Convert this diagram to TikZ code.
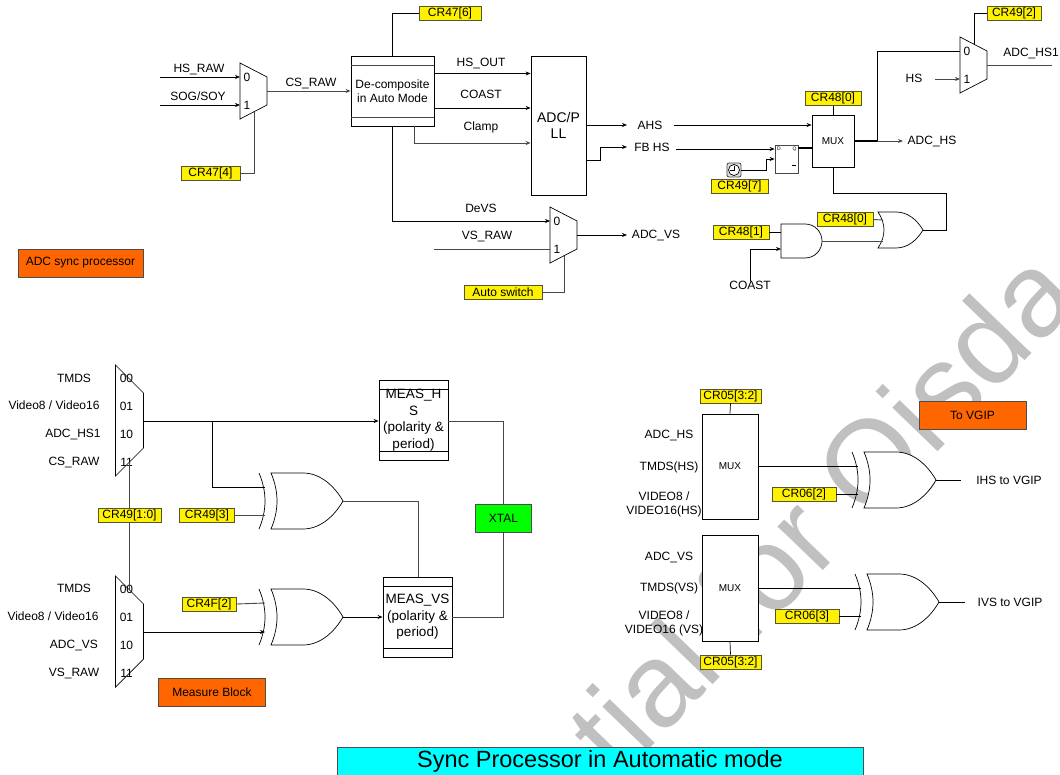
\documentclass[tikz,border=0pt]{standalone}
\usepackage{fontspec}
\setmainfont{Liberation Sans}
\usetikzlibrary{arrows.meta}
\definecolor{regedge}{HTML}{555533}
\definecolor{grayw}{HTML}{484848}
\definecolor{markgray}{HTML}{C0C0C0}
\definecolor{blockor}{HTML}{FF6600}
\definecolor{titlecy}{HTML}{00FFFF}

\begin{document}
\begin{tikzpicture}
     [
     x=1pt,
     y=-1pt,
     every node/.style={font=\fontsize{12}{14}\selectfont, inner sep=0pt, align=center},
     wire/.style={draw=black, line width=0.7pt},
     gwire/.style={draw=grayw, line width=0.9pt},
     sig/.style={wire, -{Stealth[length=5pt,width=4pt]}},
     gsig/.style={gwire, -{Stealth[length=5pt,width=4pt]}},
     reg/.style={draw=regedge, line width=0.8pt, fill=yellow, minimum height=14pt},
     block/.style={draw=black!70, line width=0.8pt, fill=blockor, minimum width=107pt, minimum height=28pt},
     box/.style={draw=black, line width=0.8pt, fill=white},
     muxb/.pic={
          \draw[wire, fill=white] (0,0) -- (27,14) -- (27,42) -- (0,56) -- cycle;
          \node (-l0) at (7,14) {0};
          \node (-l1) at (7,42) {1};
          \coordinate (-i0) at (0,14);
          \coordinate (-i1) at (0,42);
          \coordinate (-o) at (27,28);
          \coordinate (-t) at (14,7);
          \coordinate (-c) at (14,49);
     },
     muxq/.pic={
          \draw[wire, fill=white] (0,0) -- (28,28) -- (28,83) -- (0,111) -- cycle;
          \node (-l0) at (11,13) {00};
          \node (-l1) at (11,41) {01};
          \node (-l2) at (11,69) {10};
          \node (-l3) at (11,97) {11};
          \coordinate (-o) at (28,56);
          \coordinate (-t) at (14,14);
          \coordinate (-c) at (14,97);
     },
     xorg/.pic={
          \draw[wire, fill=white] (0,0) -- (32,0) .. controls (50,0) and (64,14) .. (72,28)
               .. controls (64,42) and (50,56) .. (32,56) -- (0,56)
               .. controls (8,37) and (8,19) .. (0,0) -- cycle;
          \draw[wire] (-12,0) .. controls (-4,19) and (-4,37) .. (-12,56);
          \coordinate (-i0) at (-6,14);
          \coordinate (-i1) at (-6,42);
          \coordinate (-o) at (72,28);
     },
     org/.pic={
          \draw[wire, fill=white] (0,0) -- (18,0) .. controls (30,0) and (39,8) .. (45,18)
               .. controls (39,28) and (30,36) .. (18,36) -- (0,36)
               .. controls (8,24) and (8,12) .. (0,0) -- cycle;
          \coordinate (-i0) at (5,8);
          \coordinate (-i1) at (5,29);
          \coordinate (-o) at (45,18);
     },
     andg/.pic={
          \draw[wire, fill=white] (0,0) -- (24,0) .. controls (34,0) and (41,8) .. (41,17)
               .. controls (41,26) and (34,34) .. (24,34) -- (0,34) -- cycle;
          \coordinate (-i0) at (0,8);
          \coordinate (-i1) at (0,25);
          \coordinate (-o) at (41,17);
     }
     ]
     \useasboundingbox (0,0) rectangle (1060,775);
     \begin{scope}
          \clip (0,0) rectangle (1060,775);
          \node[anchor=base east, rotate=46, font=\fontsize{119}{125}\selectfont, text=markgray] (mark) at (1084,300) {Confidential for Qisda};
     \end{scope}

     % ADC sync part
     \pic (ma) at (240,63) {muxb};
     \pic (mb) at (550,207) {muxb};
     \pic (mc) at (960,37) {muxb};
     \node[box, minimum width=83pt, minimum height=70pt] (dcmp) at (392.5,91) {De-composite\\in Auto Mode};
     \draw[gwire] (351,65) -- (434,65) (351,117) -- (434,117);
     \node[box, minimum width=55pt, minimum height=139pt, font=\fontsize{14}{16.5}\selectfont] (adc) at (558.5,125.5) {ADC/P\\LL};
     \node[box, minimum width=42pt, minimum height=52pt, font=\fontsize{10}{12}\selectfont] (muxa) at (833,141) {MUX};
     \node[draw=grayw, fill=white, line width=0.8pt, minimum width=23pt, minimum height=28pt] (ff) at (786.5,159) {};
     \node[font=\fontsize{5}{6}\selectfont] (ffd) at (779,149) {D};
     \node[font=\fontsize{5}{6}\selectfont] (ffq) at (794.5,149) {Q};
     \draw[wire] (792,165) -- (796,165);
     \node[draw=grayw, fill=black!12, line width=0.8pt, rounded corners=2pt, minimum size=14pt] (clk) at (734,170) {};
     \draw[wire, fill=white] (clk.center) circle (5.5);
     \draw[wire] (734,166) -- (clk.center) -- (730,170);
     \pic (og) at (878,212) {org};
     \pic (ag) at (781,224) {andg};

     \node[reg, minimum width=62pt] (cr476) at (450,13.5) {CR47[6]};
     \node[reg, minimum width=59pt] (cr474) at (210.5,173) {CR47[4]};
     \node[reg, minimum width=78pt] (auto) at (503,292) {Auto switch};
     \node[reg, minimum width=54pt] (cr492) at (1014,13.5) {CR49[2]};
     \node[reg, minimum width=56pt] (cr480a) at (833,98.5) {CR48[0]};
     \node[reg, minimum width=57pt] (cr497) at (739.5,186.5) {CR49[7]};
     \node[reg, minimum width=56pt] (cr480b) at (845,219.5) {CR48[0]};
     \node[reg, minimum width=56pt] (cr481) at (741,232) {CR48[1]};

     \node (hsraw) at (199,69.5) {HS\_RAW};
     \node (sog) at (198,96) {SOG/SOY};
     \node (csraw) at (311,83.5) {CS\_RAW};
     \node (hsout) at (481,63.5) {HS\_OUT};
     \node (coast) at (481,94) {COAST};
     \node (clamp) at (481,127) {Clamp};
     \node (devs) at (481,208) {DeVS};
     \node (vsraw) at (487,236.5) {VS\_RAW};
     \node (ahs) at (650,125) {AHS};
     \node (fbhs) at (652,147) {FB HS};
     \node (advs) at (656,235.5) {ADC\_VS};
     \node (adhs) at (932,141.5) {ADC\_HS};
     \node (adhsa) at (1031,53.5) {ADC\_HS1};
     \node (hs) at (914,78) {HS};
     \node (coastb) at (750,285) {COAST};
     \node[block, minimum width=125pt] (sync) at (80.5,263) {ADC sync processor};

     \coordinate (fa) at (160,77);
     \coordinate (fb) at (160,105);
     \coordinate (fc) at (434,249);
     \draw[sig] (fa) -- (ma-i0);
     \draw[sig] (fb) -- (ma-i1);
     \draw[gsig] (ma-o) -- (dcmp.west);
     \draw[gwire] (cr474.east) -| (ma-c);
     \draw[wire] (cr476.west) -| (dcmp.north);
     \draw[sig] (dcmp.east |- 0,73.5) -- (adc.west |- 0,73.5);
     \draw[sig] (dcmp.east |- 0,108) -- (adc.west |- 0,108);
     \draw[gsig] (414,126) |- (adc.west |- 0,143);
     \draw[sig] (dcmp.south) |- (mb-i0);
     \draw[gwire] (fc) -- (mb-i1);
     \draw[gwire] (auto.east) -| (mb-c);
     \draw[sig] (adc.east |- ahs) -- (627,125);
     \draw[sig] (adc.east |- 0,160) -- (600,160) |- (627,147);
     \draw[sig] (mb-o) -- (627,235);
     \draw[sig] (674,125) -- (muxa.west |- 0,125);
     \draw[sig] (676,149) -- (ff.west |- 0,149);
     \draw[wire] (cr480a.south) -- (muxa.north);
     \draw[wire, line width=1.4pt] (ff.east |- 0,148) -- (muxa.west |- 0,148);
     \draw[sig] (clk.east) -- (766,170) |- (ff.west |- 0,159);
     \draw[wire, line width=1.4pt] (muxa.east) -- (877,141);
     \draw[gsig] (877,141) -- (903,141);
     \draw[wire] (877,141) |- (mc-i0);
     \draw[wire] (cr492.west) -| (mc-t);
     \draw[gwire] (mc-o) -- (1052,65);
     \draw[gsig] (935,79) -- (mc-i1);
     \draw[wire] (muxa.south) |- (946,193) |- (og-o);
     \draw[gwire] (cr480b.east) -- (og-i0);
     \draw[gwire] (ag-o) -- (og-i1);
     \draw[wire] (cr481.east) -- (ag-i0);
     \draw[sig] (coastb.north) |- (ag-i1);

     % measure part
     \pic (md) at (115.5,365) {muxq};
     \pic (me) at (115.5,576) {muxq};
     \pic (xa) at (271,473) {xorg};
     \pic (xb) at (271,589) {xorg};
     \node[box, minimum width=69pt, minimum height=80pt] (mhs) at (413.5,420) {};
     \node[box, minimum width=69pt, minimum height=80pt] (mvs) at (417.5,617) {};
     \draw[wire] (379,389) -- (448,389) (379,451) -- (448,451);
     \draw[wire] (383,586) -- (452,586) (383,648) -- (452,648);
     \node[font=\fontsize{13.5}{16.5}\selectfont] (mhst) at (413.5,420) {MEAS\_H\\S\\(polarity \&\\period)};
     \node[font=\fontsize{13.5}{16.5}\selectfont] (mvst) at (417.5,617) {MEAS\_VS\\(polarity \&\\period)};
     \node[draw=black!70, line width=0.8pt, fill=green, minimum width=56pt, minimum height=28pt] (xtal) at (503.5,518) {XTAL};
     \node[block] (meas) at (212,692) {Measure Block};
     \node[reg, minimum width=63pt] (cr4910) at (129.5,515) {CR49[1:0]};
     \node[reg, minimum width=55pt] (cr493) at (207,515) {CR49[3]};
     \node[reg, minimum width=54pt] (cr4f2) at (209,604) {CR4F[2]};

     \node (tmdsa) at (74,378) {TMDS};
     \node (vida) at (54,405.6) {Video8 / Video16};
     \node (adca) at (73,435) {ADC\_HS1};
     \node (csa) at (74,462.5) {CS\_RAW};
     \node (tmdsb) at (74,588) {TMDS};
     \node (vidb) at (53,616) {Video8 / Video16};
     \node (adcb) at (74,645.5) {ADC\_VS};
     \node (vsb) at (74,673.5) {VS\_RAW};

     \draw[gwire] (md-c) -- (cr4910.north);
     \draw[gwire] (cr4910.south) -- (me-t);
     \draw[sig] (md-o) -- (md-o -| mhs.west);
     \draw[wire] (212,421) |- (xa-i0);
     \draw[gwire] (cr493.east) -- (xa-i1);
     \draw[gwire] (xa-o) -| (mvs.north -| 418,0);
     \draw[gwire] (cr4f2.east) -- (xb-i0);
     \draw[sig] (me-o) -- (me-o -| xb-i1);
     \draw[sig] (xb-o) -- (mvs.west);
     \draw[gwire] (mhs.east |- 0,421) -| (xtal.north);
     \draw[gwire] (mvs.east) -| (xtal.south);

     % VGIP part
     \node[box, minimum width=56pt, minimum height=105pt, font=\fontsize{10}{12}\selectfont] (mxh) at (730,466.5) {MUX};
     \node[box, minimum width=56pt, minimum height=106pt, font=\fontsize{10}{12}\selectfont] (mxv) at (730,588) {MUX};
     \pic (xc) at (864,452) {xorg};
     \pic (xd) at (867,574) {xorg};
     \node[reg, minimum width=61pt] (cr05a) at (730.5,396) {CR05[3:2]};
     \node[reg, minimum width=61pt] (cr05b) at (730.5,662) {CR05[3:2]};
     \node[reg, minimum width=64pt] (cr062) at (804,494) {CR06[2]};
     \node[reg, minimum width=64pt] (cr063) at (807,616) {CR06[3]};
     \node[block] (vgip) at (972.5,415) {To VGIP};
     \node (adh) at (669,435.5) {ADC\_HS};
     \node (tmh) at (669,467) {TMDS(HS)};
     \node (vih) at (664,504.5) {VIDEO8 /\\VIDEO16(HS)};
     \node (adv) at (669,557.5) {ADC\_VS};
     \node (tmv) at (669,588) {TMDS(VS)};
     \node (viv) at (664,623) {VIDEO8 /\\VIDEO16 (VS)};
     \node (ihs) at (1009,480) {IHS to VGIP};
     \node (ivs) at (1010,602) {IVS to VGIP};
     \coordinate (oh) at (961,480);
     \coordinate (ov) at (965,602);

     \draw[wire] (cr05a.south) -- (mxh.north);
     \draw[wire] (cr05b.north) -- (mxv.south);
     \draw[wire] (mxh.east |- xc-i0) -- (xc-i0);
     \draw[wire] (mxv.east |- xd-i0) -- (xd-i0);
     \draw[wire] (cr062.east) -- (xc-i1);
     \draw[wire] (cr063.east) -- (xd-i1);
     \draw[wire] (xc-o) -- (oh);
     \draw[wire] (xd-o) -- (ov);

     \node[draw=black!70, line width=0.8pt, fill=titlecy, minimum width=526pt, minimum height=28pt, font=\fontsize{23.5}{26}\selectfont] (title) at (600,761) {Sync Processor in Automatic mode};
\end{tikzpicture}
\end{document}
